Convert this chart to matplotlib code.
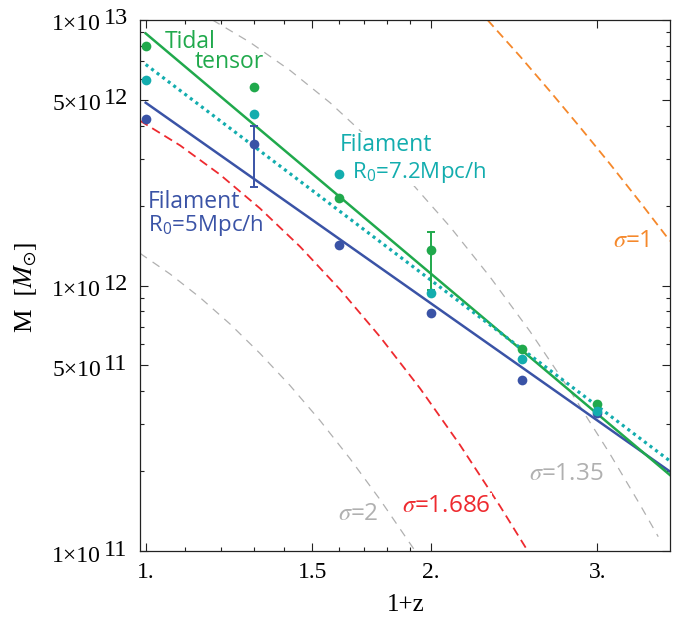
import matplotlib
matplotlib.use("Agg")
import matplotlib.pyplot as plt
from matplotlib.ticker import FixedLocator, NullFormatter, FixedFormatter

plt.rcParams['mathtext.fontset'] = 'stix'
plt.rcParams['font.family'] = ['Open Sans', 'DejaVu Sans']
plt.rcParams['lines.scale_dashes'] = False

# ---------------- data ----------------
z_points = [1.0, 1.3, 1.6, 2.0, 2.5, 3.0]                       # 1+z
tidal_m = [8.0e12, 5.6e12, 2.14e12, 1.36e12, 5.77e11, 3.57e11]
fil72_m = [5.93e12, 4.43e12, 2.62e12, 9.35e11, 5.27e11, 3.37e11]
fil5_m = [4.23e12, 3.42e12, 1.42e12, 7.9e11, 4.41e11, 3.30e11]

fit_x = [1.0, 3.58]
tidal_fit = [8.9e12, 1.93e11]
fil72_fit = [6.8e12, 2.18e11]
fil5_fit = [4.88e12, 1.99e11]

fil5_err_x = [1.3]
fil5_err_val = [3.42e12]
fil5_err_lo = [2.34e12]
fil5_err_hi = [3.99e12]
tidal_err_x = [2.0]
tidal_err_val = [1.36e12]
tidal_err_lo = [9.6e11]
tidal_err_hi = [1.595e12]

sig1_x = [2.2965, 2.4858, 2.6730, 2.8749, 3.0930, 3.3271, 3.5787]
sig1_m = [1.0e13, 7.29e12, 5.39e12, 3.95e12, 2.87e12, 2.063e12, 1.471e12]
sig135_x = [1.1764, 1.2887, 1.4205, 1.5657, 1.7254, 1.9015, 2.0964,
            2.3104, 2.5466, 2.8063, 3.0930, 3.3271, 3.4782]
sig135_m = [1.0e13, 8.24e12, 6.46e12, 4.88e12, 3.54e12, 2.47e12, 1.664e12,
            1.077e12, 6.71e11, 4.02e11, 2.32e11, 1.495e11, 1.132e11]
sig1686_x = [0.9862, 1.0870, 1.1981, 1.3203, 1.4555, 1.6041, 1.7680,
             1.9494, 2.1479, 2.3671, 2.5324]
sig1686_m = [4.176e12, 3.371e12, 2.616e12, 1.952e12, 1.401e12, 9.66e11, 6.41e11,
             4.09e11, 2.506e11, 1.476e11, 1.0e11]
sig2_x = [0.9862, 1.0609, 1.1412, 1.2276, 1.3203, 1.4205, 1.5280, 1.6436, 1.7680, 1.9258]
sig2_m = [1.322e12, 1.105e12, 9.01e11, 7.16e11, 5.55e11, 4.20e11, 3.10e11, 2.227e11,
          1.562e11, 1.0e11]

xtick_vals = [1.0, 1.5, 2.0, 3.0]
xtick_labels = ["1.", "1.5", "2.", "3."]
xminor_vals = [1.1, 1.2, 1.3, 1.4, 1.6, 1.7, 1.8, 1.9]
ytick_vals = [1e11, 5e11, 1e12, 5e12, 1e13]
ytick_mant = ["1", "5", "1", "5", "1"]
ytick_exp = ["11", "11", "12", "12", "13"]
yminor_vals = [m * 10.0 ** e for e in (11, 12) for m in range(2, 10) if m != 5]

# ---------------- colours ----------------
GREEN = '#20a94c'
CYAN = '#13adae'
BLUE = '#3a53a6'
RED = '#ee2a2f'
ORANGE = '#f5882b'
GRAY = '#b0b0b0'
SERIF = 'Liberation Serif'

W, H = 691, 618
fig = plt.figure(figsize=(W / 100, H / 100), dpi=100)
AX_L, AX_R, AX_T, AX_B = 140, 670, 20, 551
ax = fig.add_axes([AX_L / W, 1 - AX_B / H, (AX_R - AX_L) / W, (AX_B - AX_T) / H])
ax.set_xscale('log')
ax.set_yscale('log')
ax.set_xlim(0.9862, 3.579)
ax.set_ylim(1e11, 1e13)

# sigma curves
ax.plot(sig2_x, sig2_m, color=GRAY, lw=0.9, dashes=(6, 5), zorder=1)
ax.plot(sig135_x, sig135_m, color=GRAY, lw=0.9, dashes=(6, 5), zorder=1)
ax.plot(sig1686_x, sig1686_m, color=RED, lw=1.3, dashes=(6.5, 3.8), zorder=1)
ax.plot(sig1_x, sig1_m, color=ORANGE, lw=1.3, dashes=(6.5, 3.8), zorder=1)

# fits
ax.plot(fit_x, fil5_fit, color=BLUE, lw=1.8, zorder=2)
ax.plot(fit_x, tidal_fit, color=GREEN, lw=1.8, zorder=2)
ax.plot(fit_x, fil72_fit, color=CYAN, lw=2.3, dashes=(2.2, 2.8), dash_capstyle='butt', zorder=2)

# error bars
ax.errorbar(fil5_err_x, fil5_err_val,
            yerr=[[v - l for v, l in zip(fil5_err_val, fil5_err_lo)],
                  [h - v for v, h in zip(fil5_err_val, fil5_err_hi)]],
            fmt='none', ecolor=BLUE, elinewidth=1.4, capsize=3, capthick=1.4, zorder=3)
ax.errorbar(tidal_err_x, tidal_err_val,
            yerr=[[v - l for v, l in zip(tidal_err_val, tidal_err_lo)],
                  [h - v for v, h in zip(tidal_err_val, tidal_err_hi)]],
            fmt='none', ecolor=GREEN, elinewidth=1.4, capsize=3, capthick=1.4, zorder=3)

# points
ax.plot(z_points, fil5_m, 'o', color=BLUE, ms=7, mew=0, zorder=4)
ax.plot(z_points, tidal_m, 'o', color=GREEN, ms=7, mew=0, zorder=4)
ax.plot(z_points, fil72_m, 'o', color=CYAN, ms=7, mew=0, zorder=4)

# ---------------- axes styling ----------------
ax.xaxis.set_major_locator(FixedLocator(xtick_vals))
ax.xaxis.set_major_formatter(FixedFormatter(xtick_labels))
ax.xaxis.set_minor_locator(FixedLocator(xminor_vals))
ax.xaxis.set_minor_formatter(NullFormatter())
ax.yaxis.set_major_locator(FixedLocator(ytick_vals))
ax.yaxis.set_major_formatter(NullFormatter())
ax.yaxis.set_minor_locator(FixedLocator(yminor_vals))
ax.yaxis.set_minor_formatter(NullFormatter())
ax.tick_params(which='both', direction='in', top=True, right=True, width=0.8, color='#222222')
ax.tick_params(which='major', length=5.5)
ax.tick_params(which='minor', length=3)
ax.tick_params(axis='x', which='major', pad=8, labelsize=17)
for lab in ax.get_xticklabels():
    lab.set_fontfamily(SERIF)
for s in ax.spines.values():
    s.set_linewidth(0.9)
    s.set_color('#222222')

# y tick labels "m×10^e"
PT = 0.72
for v, m, e in zip(ytick_vals, ytick_mant, ytick_exp):
    ax.annotate(m + "\u00d710", xy=(0, v), xycoords=('axes fraction', 'data'),
                xytext=(-39 * PT, -10.5 * PT), textcoords='offset points',
                ha='right', va='baseline', fontsize=17, family=SERIF)
    ax.annotate(e, xy=(0, v), xycoords=('axes fraction', 'data'),
                xytext=(-36 * PT, -4.5 * PT), textcoords='offset points',
                ha='left', va='baseline', fontsize=17.5, family=SERIF)

fig.text(406 / W, 1 - 605 / H, "1+z", ha='center', va='center', fontsize=18, family=SERIF)
fig.text(26 / W, 1 - 287 / H, r"M  $[M_{\odot}]$", ha='center', va='center',
         rotation=90, fontsize=19, family=SERIF)


# ---------------- labels ----------------
def px(xp, yp):
    return (xp - AX_L) / (AX_R - AX_L), (AX_B - yp) / (AX_B - AX_T)


def label(xp, yp, s, color, bg=False, size=16.5):
    kw = dict(transform=ax.transAxes, ha='left', va='baseline', fontsize=size, color=color, zorder=6)
    if bg:
        kw['bbox'] = dict(facecolor='white', edgecolor='none', pad=1.0)
    ax.text(*px(xp, yp), s, **kw)


label(165, 48, "Tidal", GREEN)
label(195, 68, "tensor", GREEN)
label(340, 151, "Filament", CYAN, bg=True)
label(352, 178, r"R$_{\mathregular{0}}$=7.2Mpc/h", CYAN, bg=True, size=16)
label(148, 208, "Filament", BLUE)
label(148, 231, r"R$_{\mathregular{0}}$=5Mpc/h", BLUE, size=16)
label(613, 247, r"$\sigma$=1", ORANGE, bg=True, size=17.5)
label(402, 512, r"$\sigma$=1.686", RED, bg=True, size=17.5)
label(338, 520, r"$\sigma$=2", GRAY, bg=True, size=17.5)
label(529, 480, r"$\sigma$=1.35", GRAY, bg=True, size=17.5)

fig.savefig("out.png", dpi=100)
